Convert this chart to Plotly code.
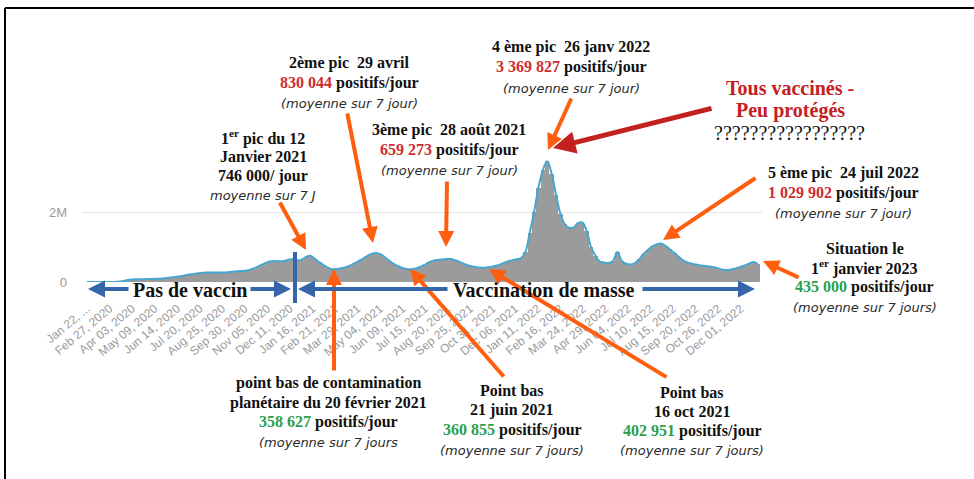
import pandas as pd
import plotly.graph_objects as go

# nouveaux cas dans le monde, moyenne sur 7 jours (milliers / jour), une valeur par semaine
cas_2020 = [0, 2, 3, 2, 1, 2, 3, 8, 25, 50, 70, 80, 82, 80, 84, 88, 92, 100, 112,
            125, 140, 160, 180, 205, 225, 245, 260, 270, 270, 272, 270, 272, 280,
            295, 305, 315, 320, 345, 385, 440, 500, 560, 590, 600, 590, 600, 640,
            660, 620, 640]
cas_2021 = [720, 750, 660, 560, 480, 410, 365, 375, 395, 425, 470, 530, 600, 670,
            750, 810, 830, 790, 700, 600, 520, 450, 400, 370, 365, 390, 430, 490,
            560, 610, 630, 645, 655, 655, 620, 575, 520, 470, 440, 420, 405, 410,
            430, 455, 490, 540, 590, 620, 650, 680, 850, 1400]
cas_2022 = [2000, 2700, 3200, 3450, 3100, 2500, 1950, 1650, 1550, 1560, 1680, 1700,
            1450, 1000, 750, 580, 560, 540, 600, 860, 600, 520, 500, 540, 650, 800,
            920, 1020, 1080, 1100, 1030, 930, 830, 720, 620, 560, 520, 500, 470, 460,
            440, 420, 390, 350, 340, 360, 390, 430, 470, 520, 570, 520]

cas = cas_2020 + cas_2021 + cas_2022
semaines = pd.date_range('2020-01-22', periods=len(cas), freq='7D')

tick_dates = pd.date_range('2020-01-22', periods=30, freq='36D')
tick_labels = ['Jan 22, ...', 'Feb 27, 2020', 'Apr 03, 2020', 'May 09, 2020', 'Jun 14, 2020',
               'Jul 20, 2020', 'Aug 25, 2020', 'Sep 30, 2020', 'Nov 05, 2020', 'Dec 11, 2020',
               'Jan 16, 2021', 'Feb 21, 2021', 'Mar 29, 2021', 'May 04, 2021', 'Jun 09, 2021',
               'Jul 15, 2021', 'Aug 20, 2021', 'Sep 25, 2021', 'Oct 31, 2021', 'Dec 06, 2021',
               'Jan 11, 2022', 'Feb 16, 2022', 'Mar 24, 2022', 'Apr 29, 2022', 'Jun 04, 2022',
               'Jul 10, 2022', 'Aug 15, 2022', 'Sep 20, 2022', 'Oct 26, 2022', 'Dec 01, 2022']

ROUGE = '#cc2b30'
ROUGE_FONCE = '#c4201f'
VERT = '#2e9f4a'
ORANGE = '#ff5e0e'
BLEU = '#3566a8'

# plot area in page pixels
L, R, T, B = 82, 762, 142, 282
W, H = 974, 479


def px(x):
    return (x - L) / (R - L)


def py(y):
    return (B - y) / (B - T)


def num(v, c):
    return f"<span style='color:{c}'>{v}</span>"


def moy(t, size=13):
    return f"<span style='font-family:DejaVu Sans;font-size:{size}px;color:#2b2b2b'><i>{t}</i></span>"


fig = go.Figure()
fig.add_trace(go.Bar(x=semaines, y=[v * 1000 for v in cas], width=7 * 86400000,
                     marker=dict(color='#9b9b9b', line=dict(width=0)), hoverinfo='skip'))
fig.add_trace(go.Scatter(x=semaines, y=[v * 1000 for v in cas], mode='lines',
                         line=dict(color='#45a6d0', width=2, shape='spline'), hoverinfo='skip'))

annotations = []

# text blocks: (centre x, first line y, line step, lines)
blocs = [
    (263, 137, 19.5, ['<b>1<sup>er</sup> pic du 12</b>', '<b>Janvier 2021</b>', '<b>746 000/ jour</b>',
                      moy('moyenne sur 7 J')]),
    (349, 63, 20, ['<b>2ème pic  29 avril</b>', '<b>' + num('830 044', ROUGE) + ' positifs/jour</b>',
                   moy('(moyenne sur 7 jour)')]),
    (449, 130, 20, ['<b>3ème pic  28 août 2021</b>', '<b>' + num('659 273', ROUGE) + ' positifs/jour</b>',
                    moy('(moyenne sur 7 jour)')]),
    (571, 47, 20.5, ['<b>4 ème pic  26 janv 2022</b>', '<b>' + num('3 369 827', ROUGE) + ' positifs/jour</b>',
                     moy('(moyenne sur 7 jour)')]),
    (843, 173, 20, ['<b>5 ème pic  24 juil 2022</b>', '<b>' + num('1 029 902', ROUGE) + ' positifs/jour</b>',
                    moy('(moyenne sur 7 jour)')]),
    (865, 248, 19.7, ['<b>Situation le</b>', '<b>1<sup>er</sup> janvier 2023</b>',
                      '<b>' + num('435 000', VERT) + ' positifs/jour</b>', moy('(moyenne sur 7 jours)')]),
    (328, 383, 19.7, ['<b>point bas de contamination</b>', '<b>planétaire du 20 février 2021</b>',
                      '<b>' + num('358 627', VERT) + ' positifs/jour</b>', moy('(moyenne sur 7 jours')]),
    (512, 390, 20, ['<b>Point bas</b>', '<b>21 juin 2021</b>',
                    '<b>' + num('360 855', VERT) + ' positifs/jour</b>', moy('(moyenne sur 7 jours)')]),
    (692, 392, 19.5, ['<b>Point bas</b>', '<b>16 oct 2021</b>',
                      '<b>' + num('402 951', VERT) + ' positifs/jour</b>', moy('(moyenne sur 7 jours)')]),
]
for cx, y0, dy, lignes in blocs:
    for i, t in enumerate(lignes):
        annotations.append(dict(x=px(cx), y=py(y0 + i * dy), xref='paper', yref='paper',
                                text=t, showarrow=False, xanchor='center', yanchor='middle',
                                font=dict(family='Liberation Serif', size=16, color='#111111')))

for i, t in enumerate(['<b>Tous vaccinés -</b>', '<b>Peu protégés</b>']):
    annotations.append(dict(x=px(790), y=py(88 + i * 23), xref='paper', yref='paper', text=t,
                            showarrow=False, xanchor='center', yanchor='middle',
                            font=dict(family='Liberation Serif', size=20, color=ROUGE_FONCE)))
annotations.append(dict(x=px(789), y=py(133), xref='paper', yref='paper', text='?' * 17,
                        showarrow=False, xanchor='center', yanchor='middle',
                        font=dict(family='Liberation Serif', size=20, color='#111111')))

# arrows: head (x, y), tail (x, y) in page pixels
fleches = [
    ((306, 250), (279, 201), ORANGE, 4, 0.8),
    ((373, 243), (347, 112), ORANGE, 4, 0.8),
    ((446, 247), (447, 180), ORANGE, 4, 0.8),
    ((548, 150), (572, 97), ORANGE, 4, 0.8),
    ((553, 148), (713, 108), ROUGE_FONCE, 5, 0.9),
    ((663, 240), (757, 177), ORANGE, 4, 0.8),
    ((763, 261), (800, 278), ORANGE, 4, 0.8),
    ((334, 269), (334, 372), ORANGE, 4, 0.8),
    ((410, 269), (505, 378), ORANGE, 4, 0.8),
    ((489, 269), (668, 378), ORANGE, 4, 0.8),
    # vaccination periods, split around their labels
    ((88, 289), (130, 289), BLEU, 4, 0.85),
    ((291, 289), (249, 289), BLEU, 4, 0.85),
    ((298, 289), (449, 289), BLEU, 4, 0.85),
    ((755, 289), (641, 289), BLEU, 4, 0.85),
]
for (hx, hy), (tx, ty), col, w, s in fleches:
    annotations.append(dict(x=px(hx), y=py(hy), xref='paper', yref='paper', text='',
                            showarrow=True, ax=tx - hx, ay=ty - hy, axref='pixel', ayref='pixel',
                            arrowhead=2, arrowsize=s, arrowwidth=w, arrowcolor=col, standoff=0))

for cx, t in [(190, 'Pas de vaccin'), (544, 'Vaccination de masse')]:
    annotations.append(dict(x=px(cx), y=py(290), xref='paper', yref='paper', text=f'<b>{t}</b>',
                            showarrow=False, xanchor='center', yanchor='middle',
                            font=dict(family='Liberation Serif', size=20, color='#111111')))

shapes = [
    dict(type='line', xref='paper', yref='paper', x0=px(295), x1=px(295), y0=py(252), y1=py(303),
         line=dict(color=BLEU, width=4)),
    dict(type='line', xref='paper', yref='paper', x0=px(5), x1=px(W + 2), y0=py(8), y1=py(8),
         line=dict(color='black', width=2)),
    dict(type='line', xref='paper', yref='paper', x0=px(5), x1=px(5), y0=py(8), y1=py(H + 2),
         line=dict(color='black', width=2)),
]

fig.update_layout(
    width=W, height=H,
    margin=dict(l=L, r=W - R, t=T, b=H - B),
    paper_bgcolor='white', plot_bgcolor='white',
    showlegend=False, bargap=0,
    annotations=annotations, shapes=shapes,
    font=dict(family='Liberation Sans'),
)
fig.update_xaxes(type='date', range=['2020-01-14', '2023-01-04'], tickvals=tick_dates,
                 ticktext=tick_labels, tickangle=-40, showgrid=False, zeroline=False,
                 ticks='outside', ticklen=14, tickcolor='rgba(0,0,0,0)',
                 tickfont=dict(size=12, color='#9a9a9a'))
fig.update_yaxes(range=[0, 4e6], tickvals=[0, 2e6], ticktext=['0', '2M'], showgrid=True,
                 gridcolor='#e4e4e4', zeroline=False, ticklabelstandoff=14,
                 tickfont=dict(size=13, color='#9a9a9a'))

fig.write_html("out.html", config={'displayModeBar': False},
               post_script="document.body.style.margin='0';document.body.style.overflow='hidden';")
